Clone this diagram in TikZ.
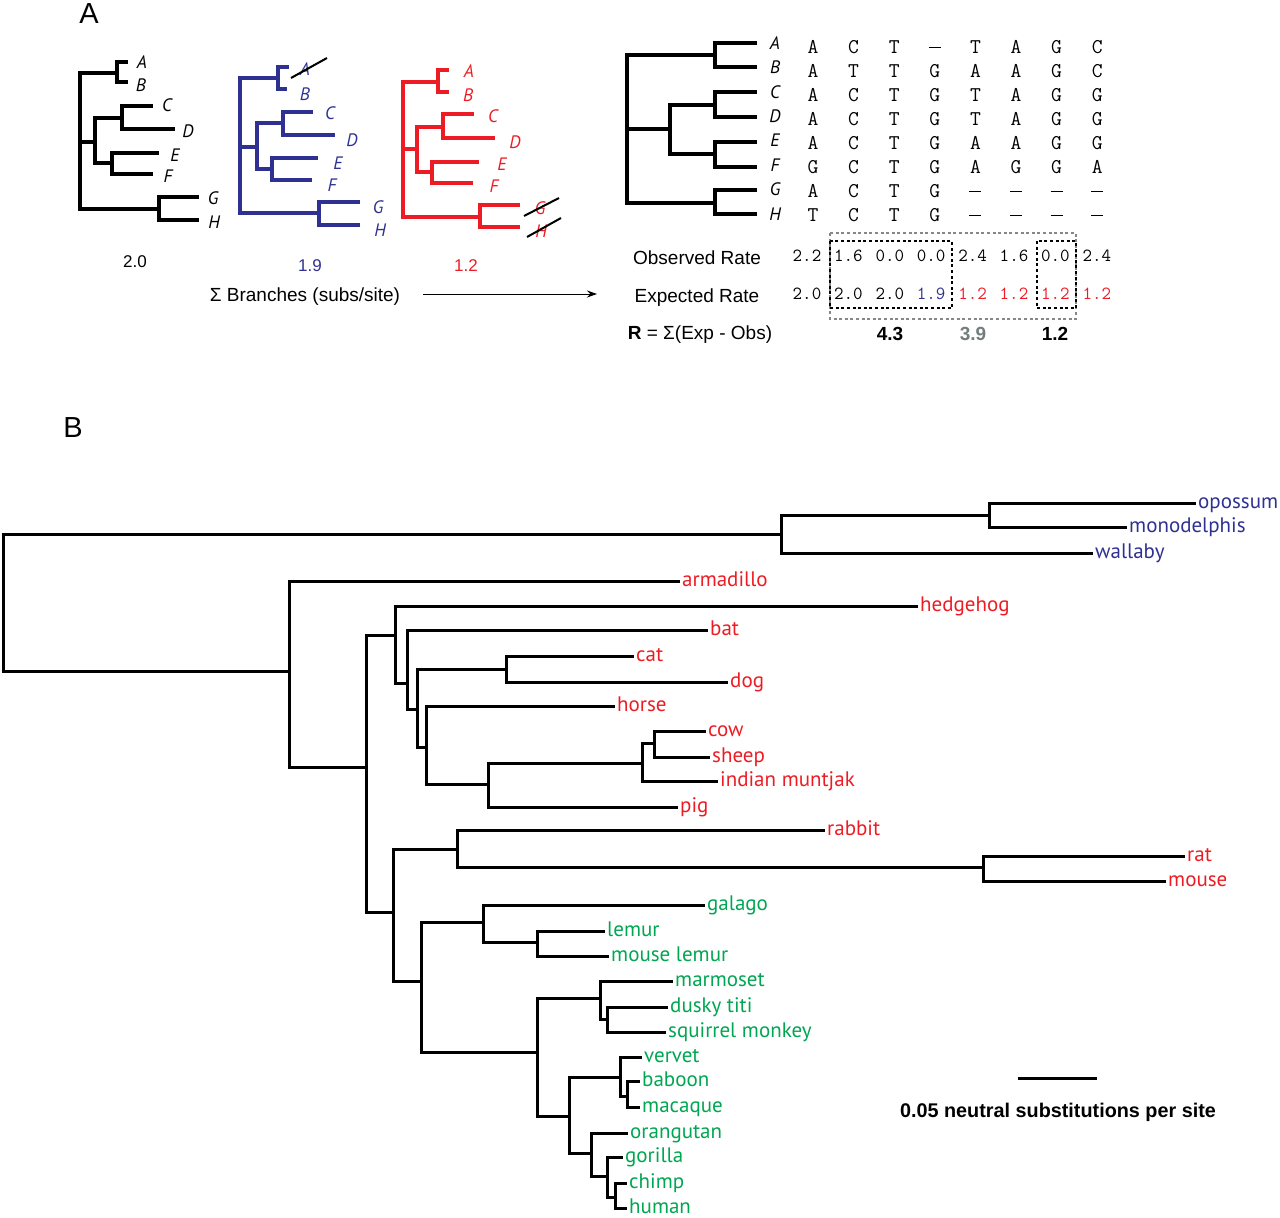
\documentclass[tikz,border=0pt]{standalone}
\usepackage{fontspec}
\setmainfont{Liberation Sans}
\newfontfamily\myriad{PT Sans}
\usetikzlibrary{arrows.meta}
\definecolor{treeblue}{RGB}{46,49,146}
\definecolor{treered}{RGB}{237,28,36}
\definecolor{treegreen}{RGB}{0,166,81}
\definecolor{boxgray}{RGB}{135,135,135}
\definecolor{numgray}{RGB}{115,125,125}
\newcommand\gapmark{\rule[5.5pt]{12pt}{1.3pt}}
\tikzset{
  br/.style={line width=3pt},
  thickbr/.style={line width=4.8pt},
  sp/.style={font=\myriad\fontsize{21}{25}\selectfont, inner sep=2pt, anchor=west,
    text height=13.5pt, text depth=3pt},
  tiplab/.style={font=\myriad\itshape\fontsize{18}{21}\selectfont, inner sep=0pt,
    text height=12.5pt, text depth=0pt},
  seq/.style={font=\ttfamily\fontsize{21}{24}\selectfont, inner sep=0pt,
    text height=13pt, text depth=0pt},
  rate/.style={font=\ttfamily\fontsize{18.5}{20}\selectfont, inner sep=0pt,
    text height=11pt, text depth=0pt},
  lab/.style={font=\fontsize{19}{22}\selectfont, inner sep=0pt,
    text height=14pt, text depth=0pt},
  tot/.style={font=\bfseries\fontsize{19}{22}\selectfont, inner sep=0pt,
    text height=14pt, text depth=0pt},
  dbox/.style={line width=2.6pt, dash pattern=on 3pt off 2.6pt},
}
\begin{document}
\begin{tikzpicture}[x=1pt,y=-1pt]
\useasboundingbox (0,0) rectangle (1280,1218);

\node[font=\fontsize{29}{32}\selectfont] (panelA) at (89,14) {A};
\node[font=\fontsize{29}{32}\selectfont] (panelB) at (73,428) {B};

% panel A: the three summed trees and the tree of the alignment
\foreach \n/\x/\y in {k0/80/142, kAB/117/73, kCF/95/142, kGH/159/209, kA/128/62, kB/128/82,
    kCD/122/118, kEF/112/163, kC/153/106, kD/175/129, kE/159/153, kF/153/174, kG/199/197, kH/199/220,
    u0/240/147, uAB/278/78, uCF/257/147, uGH/319/213, uA/289/67, uB/287/89,
    uCD/283/123, uEF/272/169, uC/313/112, uD/335/135, uE/318/158, uF/312/180, uG/360/202, uH/360/225,
    r0/403/149, rAB/438/82, rCF/417/149, rGH/480/217, rA/449/70, rB/449/92,
    rCD/443/127, rEF/432/172, rC/474/114, rD/495/138, rE/479/162, rF/473/183, rG/520/205, rH/520/227,
    s0/627/129, sAB/715/55, sCF/670/129, sGH/715/203, sA/757/43, sB/757/67,
    sCD/715/105, sEF/715/154, sC/757/92, sD/757/117, sE/757/142, sF/757/167, sG/757/190, sH/757/214}
  \coordinate (\n) at (\x,\y);
\foreach \t/\c in {k/black, u/treeblue, r/treered, s/black}
  \foreach \a/\b in {0/AB, 0/CF, 0/GH, AB/A, AB/B, CF/CD, CF/EF, CD/C, CD/D, EF/E, EF/F, GH/G, GH/H}
    \draw[thickbr, \c] (\t\a) |- (\t\b);

\foreach \l/\x/\y in {A/142/62, B/141/85, C/167/105, D/188/131, E/175/155, F/168/176, G/213/198, H/214/222}
  \node[tiplab] (k-\l) at (\x,\y) {\l};
\foreach \l/\x/\y in {A/305/69, B/305/94, C/330/113, D/352/140, E/338/163, F/332/185, G/378/207, H/380/230}
  \node[tiplab, text=treeblue] (u-\l) at (\x,\y) {\l};
\foreach \l/\x/\y in {A/469/71, B/468/95, C/493/116, D/515/142, E/502/164, F/494/186, G/540/208, H/541/231}
  \node[tiplab, text=treered] (r-\l) at (\x,\y) {\l};
\foreach \l [count=\i from 0] in {A,B,C,D,E,F,G,H}
  \node[tiplab] (s-\l) at (775,43+24.4*\i) {\l};

% struck out taxa
\draw[line width=2pt] (291,78) -- (327,58);
\draw[line width=2pt] (524,216) -- (559,198);
\draw[line width=2pt] (527,237) -- (561,218);

\node[lab, font=\fontsize{17}{20}\selectfont] (sum-k) at (135,260) {2.0};
\node[lab, font=\fontsize{17}{20}\selectfont, text=treeblue] (sum-u) at (310,264) {1.9};
\node[lab, font=\fontsize{17}{20}\selectfont, text=treered] (sum-r) at (466,264) {1.2};
\node[lab] (sumlab) at (305,294) {Σ Branches (subs/site)};
\coordinate (arr-s) at (423,294);
\coordinate (arr-e) at (597,294);
\draw[line width=1pt, -{Stealth[length=10pt,width=7pt]}] (arr-s) -- (arr-e);

% alignment
\foreach \row [count=\r from 0] in {{A,C,T,\gapmark,T,A,G,C},{A,T,T,G,A,A,G,C},{A,C,T,G,T,A,G,G},
    {A,C,T,G,T,A,G,G},{A,C,T,G,A,A,G,G},{G,C,T,G,A,G,G,A},
    {A,C,T,G,\gapmark,\gapmark,\gapmark,\gapmark},{T,C,T,G,\gapmark,\gapmark,\gapmark,\gapmark}}
  \foreach \c [count=\i from 0] in \row
    \node[seq] (aln-\r-\i) at (813+40.6*\i,47+24*\r) {\c};

% rates
\node[lab] (obslab) at (697,257) {Observed Rate};
\node[lab] (explab) at (697,295) {Expected Rate};
\node[lab] (rlab) at (700,332) {\textbf{R} = Σ(Exp - Obs)};
\draw[dbox, boxgray] (830,233) rectangle (1076,319);
\draw[dbox] (830,241) rectangle (952,308);
\draw[dbox] (1037,241) rectangle (1076,308);
\foreach \v [count=\i from 0] in {2.2,1.6,0.0,0.0,2.4,1.6,0.0,2.4}
  \node[rate] (obs-\i) at (807+41.4*\i,256) {\v};
\foreach \v/\c [count=\i from 0] in {2.0/black,2.0/black,2.0/black,1.9/treeblue,
    1.2/treered,1.2/treered,1.2/treered,1.2/treered}
  \node[rate, text=\c] (exp-\i) at (807+41.4*\i,294) {\v};
\node[tot] (tot-1) at (890,333) {4.3};
\node[tot, text=numgray] (tot-2) at (973,333) {3.9};
\node[tot] (tot-3) at (1055,333) {1.2};

% panel B: neutral tree
\foreach \n/\x/\y in {root/3/602, mars/781/534, opmo/989/515, plac/289/671, boreo/366/767,
    laur/395/635, nbat/407/683, ncarn/417/709, catdog/506/669, ung/426/747, artio/488/784,
    rumi/642/763, bovid/654/743, euar/393/912, glires/457/849, murid/983/867, prim/421/981,
    strep/483/922, lemurs/537/942, anth/537/1052, nwm/600/998, cebid/607/1019, catar/569/1116,
    owm/620/1077, papio/627/1096, homin/591/1153, hominae/607/1176, panhomo/615/1197}
  \coordinate (\n) at (\x,\y);
\foreach \n/\t/\x/\y/\c in {opossum/opossum/1196/503/treeblue, monodelphis/monodelphis/1127/527/treeblue,
    wallaby/wallaby/1093/553/treeblue, armadillo/armadillo/680/581/treered,
    hedgehog/hedgehog/918/606/treered, bat/bat/708/630/treered, cat/cat/634/656/treered,
    dog/dog/728/682/treered, horse/horse/615/706/treered, cow/cow/706/731/treered,
    sheep/sheep/710/757/treered, muntjak/indian muntjak/718/781/treered, pig/pig/678/807/treered,
    rabbit/rabbit/825/830/treered, rat/rat/1185/856/treered, mouse/mouse/1166/881/treered,
    galago/galago/705/905/treegreen, lemur/lemur/605/931/treegreen,
    mouselemur/mouse lemur/609/956/treegreen, marmoset/marmoset/673/981/treegreen,
    titi/dusky titi/668/1007/treegreen, squirrel/squirrel monkey/666/1032/treegreen,
    vervet/vervet/642/1057/treegreen, baboon/baboon/640/1081/treegreen,
    macaque/macaque/640/1107/treegreen, orangutan/orangutan/628/1133/treegreen,
    gorilla/gorilla/623/1157/treegreen, chimp/chimp/627/1183/treegreen, human/human/627/1208/treegreen}
  \node[sp, text=\c] (\n) at (\x,\y) {\t};
\foreach \a/\b in {root/mars, root/plac, mars/opmo, mars/wallaby, opmo/opossum, opmo/monodelphis,
    plac/armadillo, plac/boreo, boreo/laur, boreo/euar, laur/hedgehog, laur/nbat, nbat/bat, nbat/ncarn,
    ncarn/catdog, ncarn/ung, catdog/cat, catdog/dog, ung/horse, ung/artio, artio/rumi, artio/pig,
    rumi/bovid, rumi/muntjak, bovid/cow, bovid/sheep, euar/glires, euar/prim, glires/rabbit,
    glires/murid, murid/rat, murid/mouse, prim/strep, prim/anth, strep/galago, strep/lemurs,
    lemurs/lemur, lemurs/mouselemur, anth/nwm, anth/catar, nwm/marmoset, nwm/cebid, cebid/titi,
    cebid/squirrel, catar/owm, catar/homin, owm/vervet, owm/papio, papio/baboon, papio/macaque,
    homin/orangutan, homin/hominae, hominae/gorilla, hominae/panhomo, panhomo/chimp, panhomo/human}
  \draw[br] (\a) |- (\b);

% scale bar
\coordinate (sb-l) at (1018,1078);
\coordinate (sb-r) at (1097,1078);
\draw[br] (sb-l) -- (sb-r);
\node[tot, font=\bfseries\fontsize{19.8}{22}\selectfont] (sblab) at (1058,1110) {0.05 neutral substitutions per site};
\end{tikzpicture}
\end{document}
